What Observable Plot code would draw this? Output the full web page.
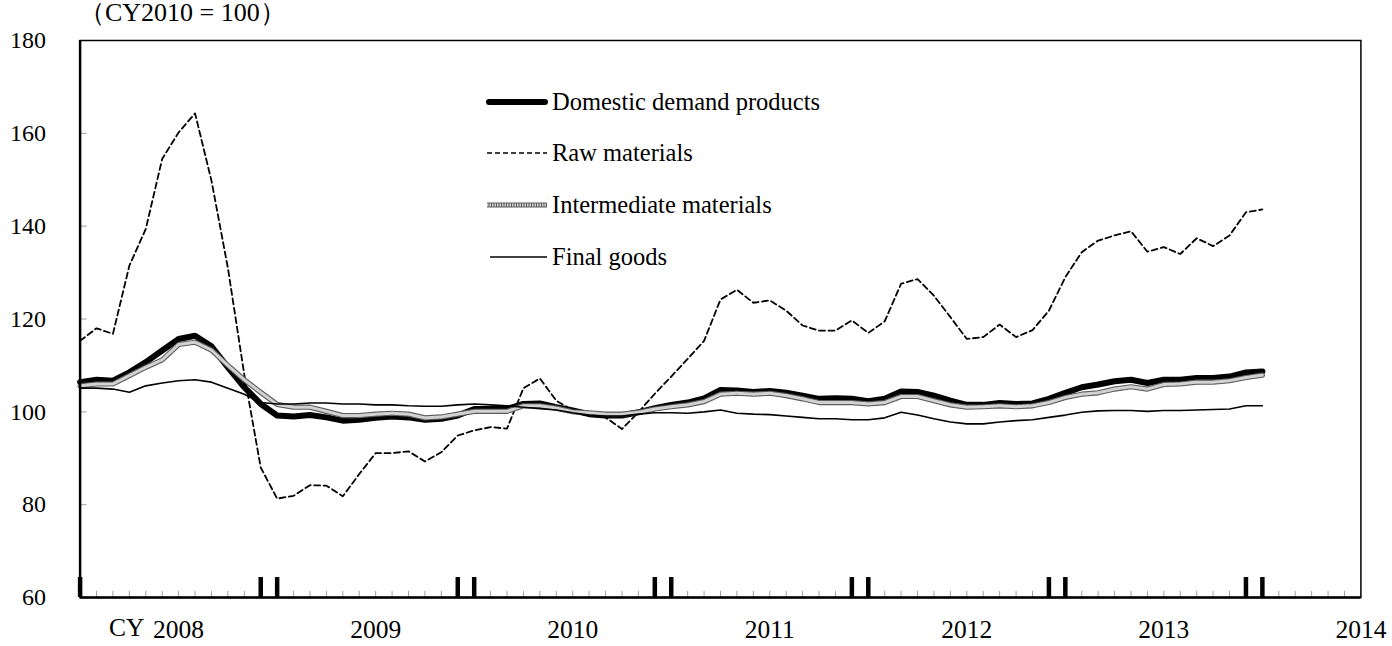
<!DOCTYPE html>
<html>
<head>
<meta charset="utf-8">
<script src="https://cdn.jsdelivr.net/npm/d3@7"></script>
<script src="https://cdn.jsdelivr.net/npm/@observablehq/plot@0.6"></script>
<style>
  html, body { margin: 0; padding: 0; background: #fff; }
  #wrap { position: relative; width: 1392px; height: 646px; font-family: "Liberation Serif", "Times New Roman", serif; color: #000; }
  #title { position: absolute; left: 79px; top: -1px; font-size: 26px; line-height: 28px; white-space: nowrap; }
  .lg { position: absolute; left: 486px; height: 28px; display: flex; align-items: center; font-size: 24.5px; line-height: 28px; white-space: nowrap; }
  .lg svg { margin-right: 4px; }
</style>
</head>
<body>
<div id="wrap">
  <div id="chart"></div>
  <div id="title">（CY2010 = 100）</div>
  <div id="legend"></div>
</div>
<script>
// ---- data (monthly, Jan 2008 = index 0 ... Jan 2014 = index 72) ----
const seriesNames = ["Domestic demand products", "Raw materials", "Intermediate materials", "Final goods"];

const domestic = [106.4,106.9,106.7,108.5,110.7,113.2,115.7,116.4,114.1,109.6,105.3,101.7,
  99.2,99.0,99.3,98.8,98.1,98.3,98.7,99.0,98.8,98.3,98.5,99.2,
  100.6,100.6,100.6,101.7,101.8,101.0,100.3,99.5,99.2,99.2,99.9,100.8,
  101.5,102.0,102.9,104.7,104.6,104.3,104.5,104.1,103.5,102.8,102.9,102.8,
  102.3,102.8,104.4,104.3,103.5,102.4,101.5,101.5,101.9,101.7,101.8,102.8,
  104.1,105.3,105.9,106.6,106.9,106.2,106.9,106.9,107.3,107.3,107.6,108.5,
  108.7];

const rawMaterials = [115.3,118.0,116.8,131.5,139.4,154.5,160.2,164.3,149.8,131.0,108.0,88.0,
  81.3,81.9,84.2,84.1,81.8,86.6,91.1,91.1,91.5,89.3,91.3,94.9,
  96.0,96.7,96.4,105.1,107.2,102.4,100.3,99.5,98.8,96.3,99.9,103.9,
  107.6,111.4,115.3,124.2,126.3,123.5,124.0,121.8,118.6,117.5,117.5,119.7,
  117.0,119.5,127.6,128.6,125.0,120.4,115.7,116.1,118.8,116.1,117.6,121.8,
  129.0,134.4,136.9,138.0,138.9,134.5,135.5,134.0,137.4,135.7,138.0,143.0,
  143.6];

const intermediate = [105.6,106.0,106.0,107.8,109.6,111.2,114.5,115.0,113.3,110.0,106.9,104.2,
  101.6,101.0,101.0,100.1,99.2,99.2,99.5,99.7,99.5,98.7,98.9,99.5,
  100.1,100.1,100.1,101.3,101.3,100.8,100.0,99.8,99.5,99.5,99.9,100.6,
  101.1,101.5,102.2,103.8,104.0,103.8,104.0,103.5,102.8,102.0,102.0,102.0,
  101.7,102.0,103.3,103.3,102.4,101.5,101.0,101.1,101.3,101.1,101.3,102.0,
  103.1,103.8,104.1,104.9,105.4,104.9,105.9,106.0,106.4,106.4,106.7,107.4,
  107.9];

const finalGoods = [105.1,105.1,104.9,104.2,105.6,106.2,106.7,106.9,106.4,105.1,103.8,102.0,
  101.7,101.7,101.9,101.9,101.7,101.7,101.5,101.5,101.3,101.2,101.2,101.5,
  101.7,101.5,101.3,101.0,100.7,100.4,99.8,99.3,99.1,99.1,99.5,99.8,
  99.8,99.7,100.0,100.4,99.7,99.5,99.4,99.1,98.8,98.5,98.5,98.3,
  98.3,98.7,99.9,99.3,98.5,97.8,97.4,97.4,97.8,98.1,98.3,98.8,
  99.3,99.9,100.2,100.3,100.3,100.1,100.3,100.3,100.4,100.5,100.6,101.3,
  101.3];

const yTicks = [60, 80, 100, 120, 140, 160, 180];
const yearLabels = ["2008", "2009", "2010", "2011", "2012", "2013", "2014"];
const yearPos = [6, 18, 30, 42, 54, 66, 78];          // mid-year month index
const thickTicks = [0, 11, 12, 23, 24, 35, 36, 47, 48, 59, 60, 71, 72];
const allTicks = d3.range(0, 79);

// ---- build tables ----
const toRows = arr => arr.map((v, i) => ({i, v}));
const minorTicks = allTicks.filter(t => !thickTicks.includes(t) && t !== 78);
const font = "Liberation Serif, Times New Roman, serif";

const chart = Plot.plot({
  width: 1392,
  height: 646,
  marginLeft: 79.6,
  marginRight: 31.6,
  marginTop: 40,
  marginBottom: 49,
  style: {fontFamily: font, fontSize: "24px", color: "#000", background: "#fff"},
  x: {domain: [0, 78], axis: null},
  y: {domain: [60, 180], axis: null},
  marks: [
    // y tick labels
    Plot.axisY({ticks: yTicks, tickSize: 0, tickPadding: 34, fontSize: 24, label: null, tickFormat: d => String(d)}),
    // inward gray y ticks
    Plot.ruleY(yTicks.filter(v => v > 60 && v < 180), {x1: 0, x2: 0.43, stroke: "#a0a0a0", strokeWidth: 1}),
    // minor x ticks
    Plot.ruleX(minorTicks, {y1: 60, y2: 61.3, stroke: "#a0a0a0", strokeWidth: 1}),
    // thick x ticks
    Plot.ruleX(thickTicks, {y1: 60, y2: 64.3, stroke: "#000", strokeWidth: 4.5}),
    // series
    Plot.line(toRows(domestic), {x: "i", y: "v", stroke: "#000", strokeWidth: 6, strokeLinejoin: "round", strokeLinecap: "round"}),
    Plot.line(toRows(rawMaterials), {x: "i", y: "v", stroke: "#000", strokeWidth: 1.8, strokeDasharray: "6,3.5"}),
    Plot.line(toRows(intermediate), {x: "i", y: "v", stroke: "#5c5c5c", strokeWidth: 5.2, strokeLinejoin: "round"}),
    Plot.line(toRows(intermediate), {x: "i", y: "v", stroke: "#d2d2d2", strokeWidth: 3, strokeDasharray: "1.5,1", strokeLinejoin: "round"}),
    Plot.line(toRows(finalGoods), {x: "i", y: "v", stroke: "#000", strokeWidth: 1.6, strokeLinejoin: "round"}),
    // frame
    Plot.frame({stroke: "#000", strokeWidth: 1.5}),
    Plot.ruleX([0], {stroke: "#000", strokeWidth: 2.5}),
    Plot.ruleY([60], {stroke: "#000", strokeWidth: 2.5}),
    // x year labels
    Plot.text(yearLabels, {x: (d, k) => yearPos[k], frameAnchor: "bottom", dy: 40, fontSize: 25.5, text: d => d, fill: "#000"}),
    Plot.text(["CY"], {x: [6], frameAnchor: "bottom", dy: 38, dx: -52, fontSize: 25.5, fill: "#000"})
  ]
});
document.getElementById("chart").appendChild(chart);

// ---- legend ----
const legendTops = [88, 139, 191, 243];
const swatch = [
  `<line x1="3" y1="14" x2="59" y2="14" stroke="#000" stroke-width="6" stroke-linecap="round"/>`,
  `<line x1="1" y1="14" x2="61" y2="14" stroke="#000" stroke-width="1.6" stroke-dasharray="5,3"/>`,
  `<line x1="1" y1="14" x2="61" y2="14" stroke="#5c5c5c" stroke-width="5"/><line x1="1" y1="14" x2="61" y2="14" stroke="#d2d2d2" stroke-width="3" stroke-dasharray="1.5,1"/>`,
  `<line x1="4" y1="14" x2="61" y2="14" stroke="#000" stroke-width="1.6"/>`
];
const lg = document.getElementById("legend");
seriesNames.forEach((name, k) => {
  const d = document.createElement("div");
  d.className = "lg";
  d.style.top = legendTops[k] + "px";
  d.innerHTML = `<svg width="62" height="28">${swatch[k]}</svg><span>${name}</span>`;
  lg.appendChild(d);
});
</script>
</body>
</html>
